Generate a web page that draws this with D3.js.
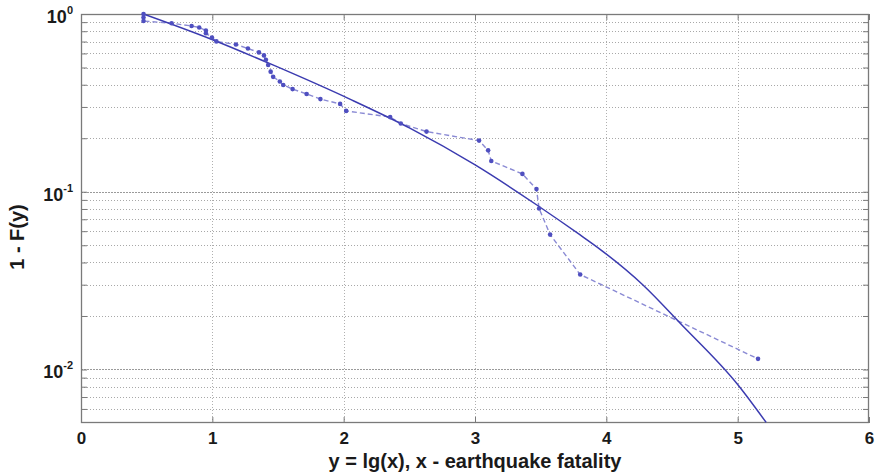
<!DOCTYPE html>
<html>
<head>
<meta charset="utf-8">
<script src="https://cdn.jsdelivr.net/npm/d3@7"></script>
<style>
  html, body { margin: 0; padding: 0; background: #fff; }
  svg { display: block; font-family: "Liberation Sans", Arial, sans-serif; }
</style>
</head>
<body>
<svg id="chart" width="880" height="476"></svg>
<script>
// Empirical tail distribution (dashed line with markers)
const empX = [0.476, 0.476, 0.476, 0.690, 0.842, 0.900, 0.951, 0.951, 0.997, 1.031,
              1.180, 1.271, 1.355, 1.393, 1.408, 1.425, 1.444, 1.463, 1.514, 1.540,
              1.611, 1.718, 1.823, 1.973, 2.019, 2.354, 2.435, 2.631, 3.031, 3.100,
              3.124, 3.361, 3.468, 3.488, 3.572, 3.801, 5.155];
const empP = [1.000, 0.956, 0.913, 0.887, 0.856, 0.840, 0.808, 0.779, 0.738, 0.701,
              0.674, 0.640, 0.608, 0.585, 0.552, 0.517, 0.474, 0.443, 0.417, 0.399,
              0.378, 0.355, 0.332, 0.312, 0.285, 0.263, 0.242, 0.218, 0.194, 0.171,
              0.149, 0.126, 0.1035, 0.0805, 0.0574, 0.0342, 0.01148];
// Fitted tail distribution (solid line)
const fitX = [0.476, 0.997, 1.461, 2.047, 2.504, 2.998, 3.468, 3.798, 3.950, 4.277, 4.566, 5.000, 5.217];
const fitP = [1.000, 0.719, 0.517, 0.332, 0.228, 0.142, 0.0845, 0.0573, 0.0476, 0.0300, 0.0181, 0.00824, 0.00504];

const xTicks = [0, 1, 2, 3, 4, 5, 6];
const yMajor = [1, 0.1, 0.01];
const yMajorExp = ["0", "-1", "-2"];
const yMinor = [0.9, 0.8, 0.7, 0.6, 0.5, 0.4, 0.3, 0.2,
                0.09, 0.08, 0.07, 0.06, 0.05, 0.04, 0.03, 0.02,
                0.009, 0.008, 0.007, 0.006];
const xLabel = "y = lg(x), x - earthquake fatality";
const yLabel = "1 - F(y)";

const L = 81, R = 869, T = 14, B = 423;
const svg = d3.select("#chart");
const x = d3.scaleLinear().domain([0, 6]).range([L, R]);
const y = d3.scaleLog().domain([0.005, 1]).range([B, T]);

svg.append("defs").append("clipPath").attr("id", "clip")
  .append("rect").attr("x", L).attr("y", T).attr("width", R - L).attr("height", B - T);

// grid
const grid = svg.append("g");
grid.selectAll("line.minor").data(yMinor).join("line")
  .attr("x1", L).attr("x2", R)
  .attr("y1", d => Math.round(y(d)) + 0.5).attr("y2", d => Math.round(y(d)) + 0.5)
  .attr("stroke", "#a8a8a8").attr("stroke-width", 1).attr("stroke-dasharray", "1,2");
grid.selectAll("line.major").data(yMajor.slice(1)).join("line")
  .attr("x1", L).attr("x2", R)
  .attr("y1", d => Math.round(y(d)) + 0.5).attr("y2", d => Math.round(y(d)) + 0.5)
  .attr("stroke", "#9a9a9a").attr("stroke-width", 1).attr("stroke-dasharray", "2,1");
grid.selectAll("line.vx").data(xTicks.slice(1, -1)).join("line")
  .attr("x1", d => Math.round(x(d)) + 0.5).attr("x2", d => Math.round(x(d)) + 0.5)
  .attr("y1", T).attr("y2", B)
  .attr("stroke", "#b0b0b0").attr("stroke-width", 1).attr("stroke-dasharray", "1,2");

// axes (ticks inward)
const axCol = "#7a7a7a";
const xAxB = d3.axisBottom(x).tickValues(xTicks).tickSizeInner(-6).tickSizeOuter(0).tickPadding(9).tickFormat(d3.format("d"));
const gx = svg.append("g").attr("transform", `translate(0,${B})`).call(xAxB);
gx.select(".domain").remove();
gx.selectAll(".tick line").attr("stroke", axCol);
gx.selectAll(".tick text").attr("font-size", 17).attr("font-weight", "bold").attr("fill", "#1a1a1a");
const xAxT = d3.axisTop(x).tickValues(xTicks).tickSizeInner(-6).tickSizeOuter(0).tickFormat("");
const gxt = svg.append("g").attr("transform", `translate(0,${T})`).call(xAxT);
gxt.select(".domain").remove();
gxt.selectAll(".tick line").attr("stroke", axCol);

const yTickVals = yMajor.concat(yMinor);
const yAxL = d3.axisLeft(y).tickValues(yTickVals).tickSizeInner(-6).tickSizeOuter(0).tickFormat("");
const gyl = svg.append("g").attr("transform", `translate(${L},0)`).call(yAxL);
gyl.select(".domain").remove();
gyl.selectAll(".tick line").attr("stroke", axCol);
const yAxR = d3.axisRight(y).tickValues(yTickVals).tickSizeInner(-6).tickSizeOuter(0).tickFormat("");
const gyr = svg.append("g").attr("transform", `translate(${R},0)`).call(yAxR);
gyr.select(".domain").remove();
gyr.selectAll(".tick line").attr("stroke", axCol);

// y tick labels 10^n
const ylab = svg.append("g");
yMajor.forEach((v, i) => {
  const t = ylab.append("text")
    .attr("x", 73).attr("y", y(v) + 9)
    .attr("text-anchor", "end").attr("font-weight", "bold").attr("fill", "#1a1a1a");
  t.append("tspan").attr("font-size", 18).text("10");
  t.append("tspan").attr("font-size", 11).attr("dy", -9).text(yMajorExp[i]);
});

// frame
svg.append("rect").attr("x", L + 0.5).attr("y", T + 0.5).attr("width", R - L - 1).attr("height", B - T - 1)
  .attr("fill", "none").attr("stroke", axCol).attr("stroke-width", 1.3);

// data
const plot = svg.append("g").attr("clip-path", "url(#clip)");
const fitData = fitX.map((d, i) => [d, fitP[i]]);
const empData = empX.map((d, i) => [d, empP[i]]);

plot.append("path").datum(empData)
  .attr("d", d3.line().x(d => x(d[0])).y(d => y(d[1])))
  .attr("fill", "none").attr("stroke", "#8a8ad4").attr("stroke-width", 1.4).attr("stroke-dasharray", "5,3");

plot.append("path").datum(fitData)
  .attr("d", d3.line().x(d => x(d[0])).y(d => y(d[1])).curve(d3.curveMonotoneX))
  .attr("fill", "none").attr("stroke", "#3b3bb0").attr("stroke-width", 1.5);

svg.append("g").selectAll("circle").data(empData).join("circle")
  .attr("cx", d => x(d[0])).attr("cy", d => y(d[1])).attr("r", 2.3)
  .attr("fill", "#4f4fc0");

// axis titles
svg.append("text").attr("x", (L + R) / 2).attr("y", 468)
  .attr("text-anchor", "middle").attr("font-size", 20).attr("font-weight", "bold").attr("fill", "#1a1a1a")
  .text(xLabel);
svg.append("text").attr("transform", `translate(24,237) rotate(-90)`)
  .attr("text-anchor", "middle").attr("font-size", 20).attr("font-weight", "bold").attr("fill", "#1a1a1a")
  .text(yLabel);
</script>
</body>
</html>
